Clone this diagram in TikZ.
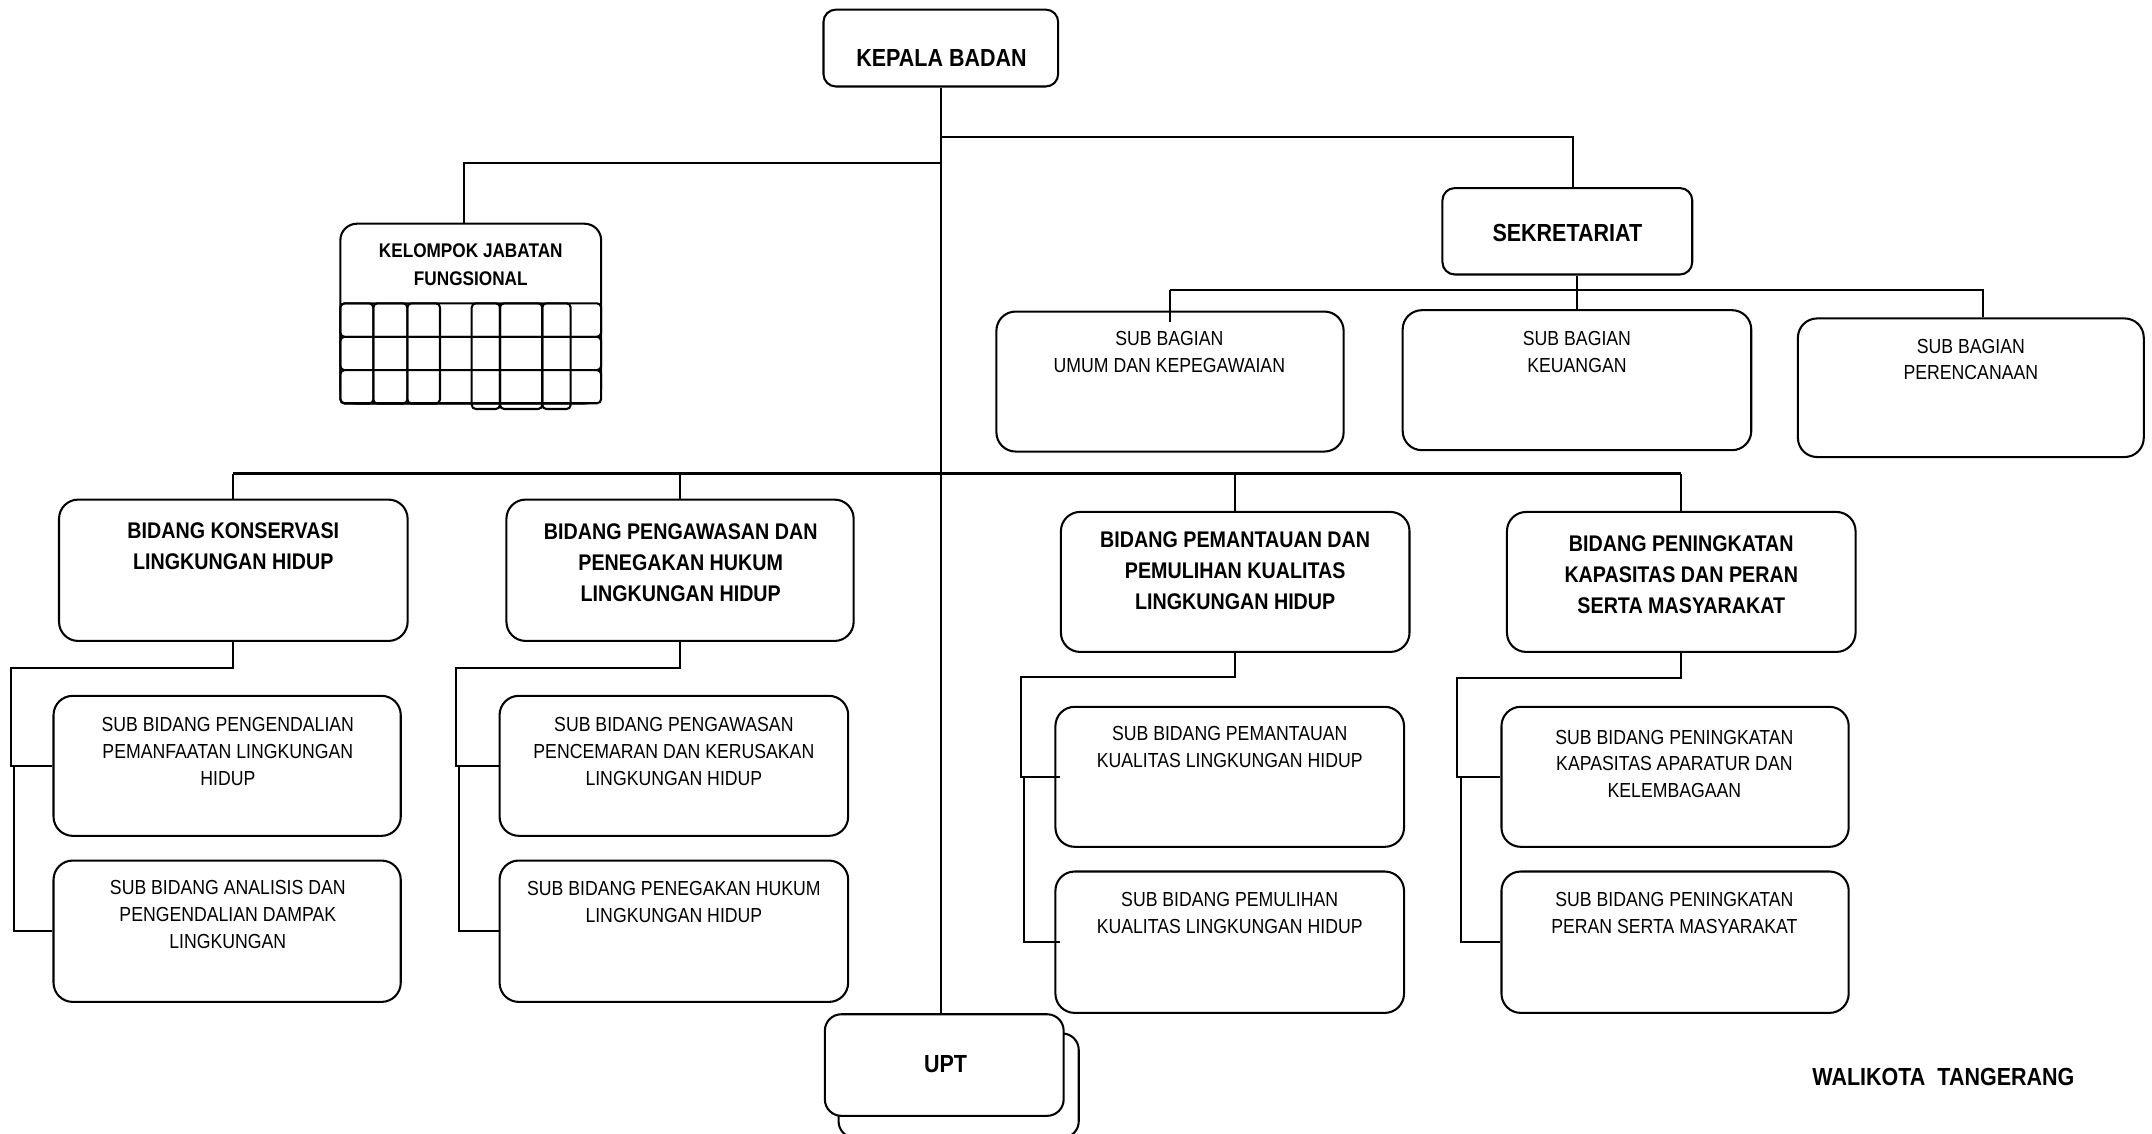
\documentclass[tikz,border=0pt]{standalone}
\usepackage{fontspec}
\setmainfont{Liberation Sans}[FakeStretch=0.87]
\usetikzlibrary{calc}
\begin{document}
\begin{tikzpicture}[x=0.5pt,y=-0.5pt,line width=0.75pt,
  bx/.style 2 args={draw, rounded corners=7pt, fill=white, inner sep=0pt,
     minimum width={#1*0.5pt}, minimum height={#2*0.5pt}},
  rt/.style={font=\fontsize{7.4}{9.75}\selectfont, align=center, inner sep=0pt},
  bt/.style={font=\fontsize{8.25}{11.25}\selectfont\bfseries, align=center, inner sep=0pt},
  ht/.style={font=\fontsize{9}{11}\selectfont\bfseries, inner sep=0pt},
  kt/.style={font=\fontsize{7.2}{10}\selectfont\bfseries, align=center, inner sep=0pt},
  cell/.style={draw, rounded corners=1.5pt}]
\useasboundingbox (0,0) rectangle (1568,826);
\clip (0,0) rectangle (1568,826);

% top level
\node[bx={171}{56}, rounded corners=4.5pt] (kepala) at (685.5,35) {};
\node[ht] (kepalaT) at (686,42) {KEPALA BADAN};

\node[bx={182}{63}, rounded corners=4.5pt] (sekr) at (1142,168.5) {};
\node[ht] (sekrT) at (1142,170) {SEKRETARIAT};

% kelompok jabatan fungsional
\node[bx={190}{131}, rounded corners=6pt] (kjf) at (343,228.5) {};
\node[kt] (kjfT) at (343,193) {KELOMPOK JABATAN\\FUNGSIONAL};
\foreach \a/\b in {221/245.4, 245.4/269.7, 269.7/293.8}
  \draw[cell, fill=white] (248,\a) rectangle (438,\b);
\foreach \a/\b/\c in {248/272/294, 272/296.8/294, 296.8/320.6/294,
                      343.7/364.3/298, 364.3/395.1/298, 395.1/415.8/298}
  \draw[cell] (\a,221) rectangle (\b,\c);

% sub bagian
\node[bx={253}{102}] (sbu) at (852.5,278) {};
\node[rt] (sbuT) at (852,256.5) {SUB BAGIAN\\UMUM DAN KEPEGAWAIAN};
\node[bx={254}{102}] (sbk) at (1149,277) {};
\node[rt] (sbkT) at (1149,256.5) {SUB BAGIAN\\KEUANGAN};
\node[bx={252}{101}] (sbp) at (1436,282.5) {};
\node[rt] (sbpT) at (1436,262) {SUB BAGIAN\\PERENCANAAN};

% bidang
\node[bx={254}{103}] (bk) at (170,415.5) {};
\node[bt] (bkT) at (170,398) {BIDANG KONSERVASI\\LINGKUNGAN HIDUP};
\node[bx={253}{103}] (bp) at (495.5,415.5) {};
\node[bt] (bpT) at (496,410) {BIDANG PENGAWASAN DAN\\PENEGAKAN HUKUM\\LINGKUNGAN HIDUP};
\node[bx={254}{102}] (bm) at (900,424) {};
\node[bt] (bmT) at (900,416) {BIDANG PEMANTAUAN DAN\\PEMULIHAN KUALITAS\\LINGKUNGAN HIDUP};
\node[bx={254}{102}] (bn) at (1225,424) {};
\node[bt] (bnT) at (1225,418.5) {BIDANG PENINGKATAN\\KAPASITAS DAN PERAN\\SERTA MASYARAKAT};

% sub bidang
\node[bx={253}{102}] (k1) at (165.5,558) {};
\node[rt] (k1T) at (166,547.5) {SUB BIDANG PENGENDALIAN\\PEMANFAATAN LINGKUNGAN\\HIDUP};
\node[bx={253}{103}] (k2) at (165.5,678.5) {};
\node[rt] (k2T) at (166,666.5) {SUB BIDANG ANALISIS DAN\\PENGENDALIAN DAMPAK\\LINGKUNGAN};
\node[bx={254}{102}] (p1) at (491,558) {};
\node[rt] (p1T) at (491,547.5) {SUB BIDANG PENGAWASAN\\PENCEMARAN DAN KERUSAKAN\\LINGKUNGAN HIDUP};
\node[bx={254}{103}] (p2) at (491,678.5) {};
\node[rt] (p2T) at (491,657) {SUB BIDANG PENEGAKAN HUKUM\\LINGKUNGAN HIDUP};
\node[bx={254}{102}] (m1) at (896,566) {};
\node[rt] (m1T) at (896,544) {SUB BIDANG PEMANTAUAN\\KUALITAS LINGKUNGAN HIDUP};
\node[bx={254}{103}] (m2) at (896,686.5) {};
\node[rt] (m2T) at (896,665) {SUB BIDANG PEMULIHAN\\KUALITAS LINGKUNGAN HIDUP};
\node[bx={253}{102}] (n1) at (1220.5,566) {};
\node[rt] (n1T) at (1220,556.5) {SUB BIDANG PENINGKATAN\\KAPASITAS APARATUR DAN\\KELEMBAGAAN};
\node[bx={253}{103}] (n2) at (1220.5,686.5) {};
\node[rt] (n2T) at (1220,665) {SUB BIDANG PENINGKATAN\\PERAN SERTA MASYARAKAT};

% UPT
\node[bx={175}{76}, rounded corners=6pt] (uptback) at (698.5,791) {};
\node[bx={174}{74}, rounded corners=6pt] (upt) at (688,776) {};
\node[ht] (uptT) at (689,775) {UPT};

\node[ht] (wali) at (1416,785) {WALIKOTA\ \ TANGERANG};

% connectors
\draw (kepala.south) -- (kepala.south |- upt.north);
\coordinate (sk) at ($(sekr.north)+(4,0)$);
\draw (kepala.south |- 0,100) -| (sk);
\coordinate (kj) at ($(kjf.north)+(-5,0)$);
\draw (kepala.south |- 0,119) -| (kj);

\coordinate (sd) at ($(sekr.south)+(7,0)$);
\draw (sd) -- (sd |- sbk.north);
\coordinate (spr) at ($(sbp.north)+(9,0)$);
\draw (sbu.north |- 0,211) -- (spr |- 0,211) -- (spr);
\draw (sbu.north |- 0,211) -- ($(sbu.north)+(0,8)$);

\draw (bk.north |- 0,345) -- (bn.north |- 0,345);
\draw (bk.north |- 0,345) -- (bk.north);
\draw (bp.north |- 0,345) -- (bp.north);
\draw (bm.north |- 0,345) -- (bm.north);
\draw (bn.north |- 0,345) -- (bn.north);

\draw (bk.south) |- ($(k1.west)+(-30,-71)$) |- (k1.west);
\draw ($(k1.west)+(-28,0)$) |- (k2.west);
\draw (bp.south) |- ($(p1.west)+(-31,-71)$) |- (p1.west);
\draw ($(p1.west)+(-29,0)$) |- (p2.west);
\draw (bm.south) |- ($(m1.west)+(-24,-73)$) |- ($(m1.west)+(4,0)$);
\draw ($(m1.west)+(-22,0)$) |- ($(m2.west)+(4,0)$);
\draw (bn.south) |- ($(n1.west)+(-32,-72)$) |- (n1.west);
\draw ($(n1.west)+(-29,0)$) |- (n2.west);
\end{tikzpicture}
\end{document}
